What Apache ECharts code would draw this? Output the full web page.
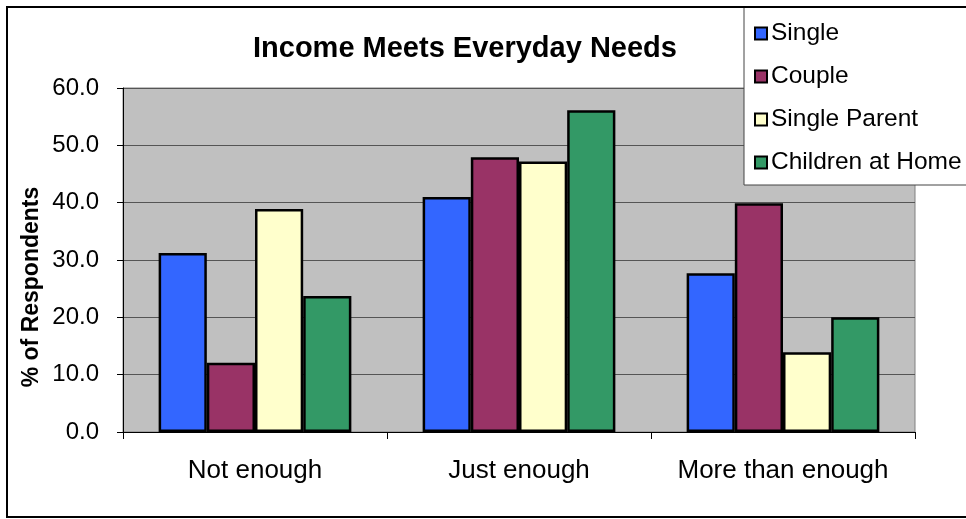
<!DOCTYPE html>
<html>
<head>
<meta charset="utf-8">
<script src="https://cdn.jsdelivr.net/npm/echarts@6/dist/echarts.min.js"></script>
<style>
  html, body { margin: 0; padding: 0; background: #fff; }
  #chart { width: 966px; height: 519px; }
</style>
</head>
<body>
<div id="chart"></div>
<script>
const categories = ['Not enough', 'Just enough', 'More than enough'];
const seriesNames = ['Single', 'Couple', 'Single Parent', 'Children at Home'];
const single = [31.2, 41.0, 27.7];
const couple = [12.1, 47.9, 39.9];
const singleParent = [38.9, 47.2, 13.9];
const childrenAtHome = [23.7, 56.1, 20.0];
const yTicks = [0, 10, 20, 30, 40, 50, 60];

const colors = ['#3366FF', '#993366', '#FFFFCC', '#339966'];
const values = [single, couple, singleParent, childrenAtHome];
const FONT = '"Liberation Sans", Arial, sans-serif';

const chart = echarts.init(document.getElementById('chart'));
chart.setOption({
  animation: false,
  textStyle: { fontFamily: FONT },
  title: {
    text: 'Income Meets Everyday Needs',
    left: 253, top: 34, padding: 0,
    textStyle: { fontFamily: FONT, fontSize: 29, fontWeight: 'bold', color: '#000' }
  },
  legend: {
    orient: 'vertical',
    left: 744, top: 7,
    padding: [14, 60, 10, 10],
    itemGap: 18,
    itemWidth: 12, itemHeight: 12,
    icon: 'rect',
    backgroundColor: '#fff',
    borderColor: '#444', borderWidth: 1,
    textStyle: { fontFamily: FONT, fontSize: 24.5, color: '#000', padding: [0, 0, 0, -1] },
    data: seriesNames
  },
  grid: {
    left: 123, top: 88, right: 51, bottom: 87,
    show: true, backgroundColor: '#C0C0C0', borderColor: '#808080', borderWidth: 1
  },
  xAxis: {
    type: 'category', data: categories,
    axisLine: { lineStyle: { color: '#000', width: 1 } },
    axisTick: { show: true, length: 7, lineStyle: { color: '#000' } },
    axisLabel: { interval: 0, margin: 26, fontSize: 26, color: '#000', fontFamily: FONT }
  },
  yAxis: {
    type: 'value', min: 0, max: 60, interval: 10,
    axisLine: { show: true, lineStyle: { color: '#000', width: 1 } },
    axisTick: { show: true, length: 6, lineStyle: { color: '#000' } },
    axisLabel: { margin: 24, fontSize: 24, color: '#000', fontFamily: FONT,
      formatter: v => yTicks.includes(v) ? v.toFixed(1) : '' },
    splitLine: { show: true, lineStyle: { color: '#555', width: 1 } }
  },
  graphic: [
    { type: 'rect', z: 100, shape: { x: 7, y: 7, width: 980, height: 510 },
      style: { fill: 'none', stroke: '#000', lineWidth: 2 } },
    { type: 'text', z: 100, x: 32, y: 287, rotation: Math.PI / 2,
      style: { text: '% of Respondents', fontFamily: FONT, fontSize: 23, fontWeight: 'bold',
        fill: '#000', align: 'center', verticalAlign: 'middle' } }
  ],
  series: seriesNames.map((name, i) => ({
    name, type: 'bar', data: values[i],
    barGap: '0%', barCategoryGap: '27%',
    itemStyle: { color: colors[i], borderColor: '#000', borderWidth: 2.5 }
  }))
});
</script>
</body>
</html>
